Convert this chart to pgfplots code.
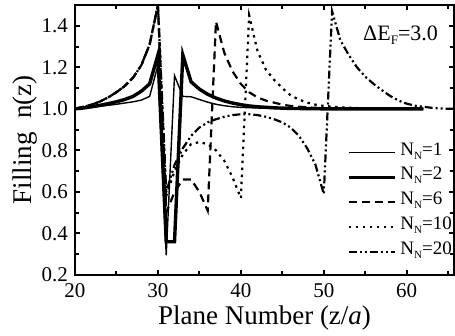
\documentclass[border=0pt]{standalone}
\usepackage{fontspec}
\setmainfont{Liberation Serif}
\usepackage{pgfplots}
\pgfplotsset{compat=1.18}
\newcommand\sub[1]{\raisebox{-4.5pt}{\fontsize{13}{13}\selectfont #1}}
\newcommand\lsub[1]{\raisebox{-4pt}{\fontsize{11}{11}\selectfont #1}}
\begin{document}
\begin{tikzpicture}
\begin{axis}[
 name=ax,
 scale only axis, width=379pt, height=270pt,
 xmin=20, xmax=65.7, ymin=0.2, ymax=1.5,
 xtick={20,30,40,50,60}, xticklabels={20,30,40,50,60},
 ytick={0.2,0.4,0.6,0.8,1.0,1.2,1.4}, yticklabels={0.2,0.4,0.6,0.8,1.0,1.2,1.4},
 minor xtick={25,35,45,55,65},
 minor ytick={0.3,0.5,0.7,0.9,1.1,1.3},
 tick align=inside,
 major tick length=5pt, minor tick length=4pt,
 every tick/.style={line width=2pt, black},
 axis line style={line width=2.8pt},
 tick label style={font=\fontsize{21}{24}\selectfont},
 xticklabel style={inner sep=0pt, anchor=north, yshift=-8pt},
 yticklabel style={inner sep=0pt, anchor=east, xshift=-7pt},
 xlabel={Plane Number (z/\textit{a})},
 ylabel={Filling~~n(z)},
 xlabel style={at={(axis description cs:0.5,-0.185)}, anchor=base, inner sep=0pt, font=\fontsize{27}{30}\selectfont},
 ylabel style={at={(axis description cs:-0.1135,0.5)}, anchor=base, inner sep=0pt, font=\fontsize{27}{30}\selectfont},
 legend style={at={(axis description cs:0.7177,0.5)}, anchor=north west, draw=none, fill=none,
   inner sep=0pt, outer sep=0pt, font=\fontsize{19}{22}\selectfont, row sep=0pt, column sep=4pt,
   nodes={inner sep=0pt, text height=15pt, text depth=9.8pt}},
 legend cell align=left,
 legend image code/.code={\draw[#1] (0pt,0pt) -- (46pt,0pt);},
 clip=true,
]
% N_N=1
\addplot[black, line width=1.4pt] coordinates {
(20,1.0) (21,1.003) (22,1.007) (23,1.012) (24,1.017) (25,1.022) (26,1.028) (27,1.034)
(28,1.042) (29,1.06) (30,1.21) (31,0.295) (32,1.16) (33,1.06) (34,1.058) (35,1.045)
(36,1.032) (37,1.022) (38,1.015) (39,1.01) (40,1.007) (42,1.004) (45,1.001) (50,1.0) (62,1.0)};
\addlegendentry{N\lsub{N}=1}
% N_N=2
\addplot[black, line width=3.4pt] coordinates {
(20,1.0) (21,1.004) (22,1.01) (23,1.017) (24,1.025) (25,1.034) (26,1.045) (27,1.06)
(28,1.085) (29,1.12) (30,1.26) (31,0.36) (32,0.36) (33,1.26) (34,1.13) (35,1.095)
(36,1.07) (37,1.052) (38,1.038) (39,1.028) (40,1.02) (41,1.014) (42,1.01) (44,1.005)
(46,1.002) (50,1.0) (62,1.0)};
\addlegendentry{N\lsub{N}=2}
% N_N=6
\addplot[black, line width=2.2pt, dash pattern=on 8pt off 5pt] coordinates {
(20,1.0) (21,1.01) (22,1.02) (23,1.035) (24,1.055) (25,1.08) (26,1.11) (27,1.15)
(28,1.21) (29,1.31) (30,1.5) (31,0.5) (32,0.6) (33,0.66) (34,0.66) (35,0.6) (36,0.51)
(37,1.42) (38,1.27) (39,1.18) (40,1.12) (41,1.08) (42,1.055) (43,1.04) (44,1.03)
(45,1.02) (46,1.014) (48,1.007) (50,1.003) (55,1.0) (62,1.0)};
\addlegendentry{N\lsub{N}=6}
% N_N=10
\addplot[black, line width=2.2pt, dash pattern=on 2.5pt off 4.5pt] coordinates {
(20,1.0) (21,1.01) (22,1.02) (23,1.035) (24,1.055) (25,1.08) (26,1.11) (27,1.15)
(28,1.21) (29,1.31) (30,1.5) (31,0.58) (32,0.7) (33,0.78) (34,0.83) (35,0.84) (36,0.83)
(37,0.8) (38,0.75) (39,0.67) (40,0.57) (41,1.45) (42,1.28) (43,1.19) (44,1.14) (45,1.1)
(46,1.065) (47,1.045) (48,1.03) (49,1.02) (50,1.014) (52,1.007) (55,1.002) (60,1.0) (62,1.0)};
\addlegendentry{N\lsub{N}=10}
% N_N=20
\addplot[black, line width=2.2pt, dash pattern=on 8pt off 3pt on 2pt off 3pt on 2pt off 3pt] coordinates {
(20,1.0) (21,1.01) (22,1.02) (23,1.035) (24,1.055) (25,1.08) (26,1.11) (27,1.15)
(28,1.21) (29,1.31) (30,1.5) (31,0.6) (32,0.73) (33,0.81) (34,0.87) (35,0.91) (36,0.935)
(37,0.95) (38,0.962) (39,0.97) (40,0.974) (41,0.974) (42,0.97) (43,0.962) (44,0.95)
(45,0.935) (46,0.91) (47,0.87) (48,0.81) (49,0.73) (50,0.59) (51,1.47) (52,1.33)
(53,1.26) (54,1.2) (55,1.155) (56,1.12) (57,1.09) (58,1.062) (59,1.04) (60,1.025)
(61,1.015) (62,1.01) (63,1.005) (64,1.002) (65,1.0) (66,1.0)};
\addlegendentry{N\lsub{N}=20}
\node[anchor=base west, inner sep=0pt, font=\fontsize{22}{24}\selectfont] at (axis description cs:0.76,0.870) {ΔE\sub{F}=3.0};
\end{axis}
\pgfresetboundingbox
\path[use as bounding box] ([shift={(-75pt,-60pt)}]ax.south west) rectangle ([shift={(1pt,5pt)}]ax.north east);
\end{tikzpicture}
\end{document}
